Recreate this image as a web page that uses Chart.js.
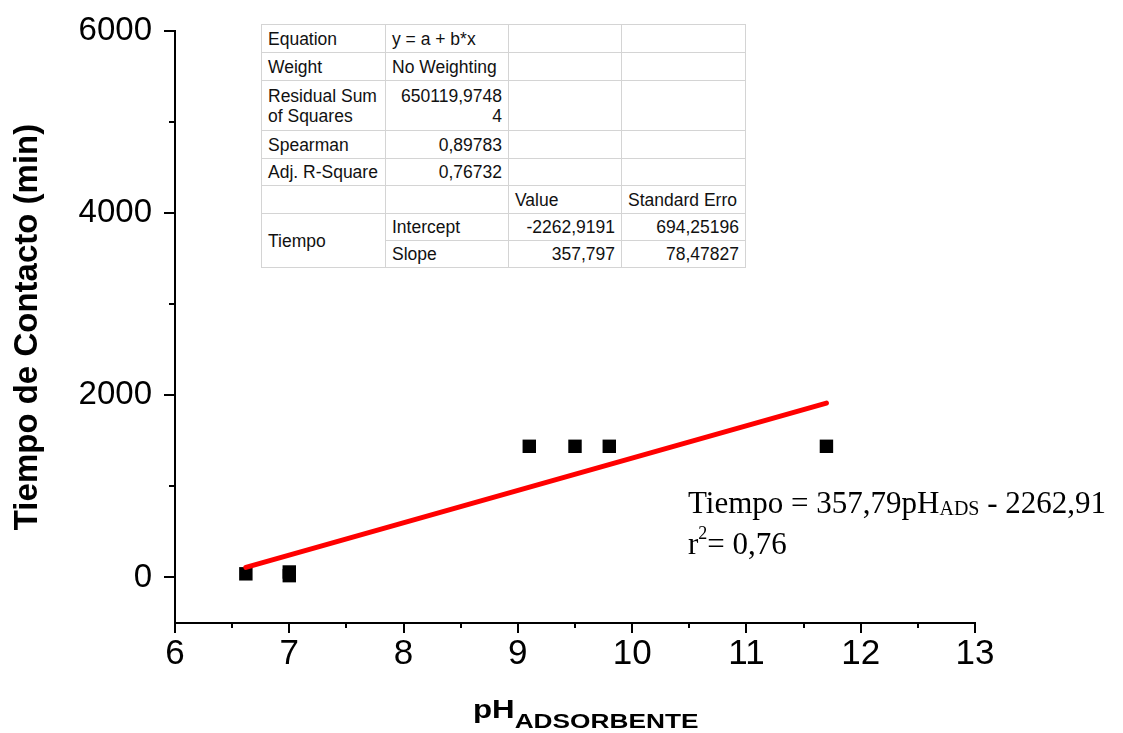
<!DOCTYPE html>
<html>
<head>
<meta charset="utf-8">
<script src="https://cdn.jsdelivr.net/npm/chart.js@4.4.1/dist/chart.umd.min.js"></script>
<style>
  html, body { margin: 0; padding: 0; background: #fff; }
  #wrap { position: relative; width: 1123px; height: 733px; overflow: hidden; }
  #c { position: absolute; left: 0; top: 0; }
  #stats {
    position: absolute; left: 261px; top: 24px;
    border-collapse: collapse; table-layout: fixed;
    font-family: "Liberation Sans", Arial, sans-serif; font-size: 17.5px; color: #111;
    border: 1.5px solid #a0a0a0; background: #fff;
  }
  #stats td {
    border: 1px solid #d4d4d4; padding: 0 6px; line-height: 20px;
    white-space: nowrap; overflow: hidden; vertical-align: middle;
  }
  #stats td.r { text-align: right; }
</style>
</head>
<body>
<div id="wrap">
  <canvas id="c" width="1123" height="733"></canvas>
  <table id="stats">
    <colgroup><col style="width:124px"><col style="width:123px"><col style="width:113px"><col style="width:124px"></colgroup>
    <tr style="height:28px"><td>Equation</td><td>y = a + b*x</td><td></td><td></td></tr>
    <tr style="height:28px"><td>Weight</td><td>No Weighting</td><td></td><td></td></tr>
    <tr style="height:50px"><td>Residual Sum<br>of Squares</td><td class="r">650119,9748<br>4</td><td></td><td></td></tr>
    <tr style="height:28px"><td>Spearman</td><td class="r">0,89783</td><td></td><td></td></tr>
    <tr style="height:27px"><td>Adj. R-Square</td><td class="r">0,76732</td><td></td><td></td></tr>
    <tr style="height:28px"><td></td><td></td><td>Value</td><td>Standard Erro</td></tr>
    <tr style="height:27px"><td rowspan="2">Tiempo</td><td>Intercept</td><td class="r">-2262,9191</td><td class="r">694,25196</td></tr>
    <tr style="height:27px"><td>Slope</td><td class="r">357,797</td><td class="r">78,47827</td></tr>
  </table>
</div>
<script>
// ---- data ----
const phValues = [6.62, 7.0, 7.0, 9.1, 9.5, 9.8, 11.7];
const tiempoValues = [40, 60, 20, 1440, 1440, 1440, 1440];
const fitX = [6.62, 11.7];
const fitY = [110, 1915];
const xTicks = [6, 7, 8, 9, 10, 11, 12, 13];
const xMinorTicks = [6.5, 7.5, 8.5, 9.5, 10.5, 11.5, 12.5];
const yTicks = [0, 2000, 4000, 6000];
const yMinorTicks = [1000, 3000, 5000];
const xTitleMain = 'pH';
const xTitleSub = 'ADSORBENTE';
const yTitle = 'Tiempo de Contacto (min)';

const tickPlugin = {
  id: 'customAxes',
  afterDraw(chart) {
    const ctx = chart.ctx;
    const xs = chart.scales.x, ys = chart.scales.y;
    const area = chart.chartArea;
    ctx.save();
    ctx.strokeStyle = '#000';
    ctx.lineWidth = 2;
    ctx.beginPath();
    xTicks.forEach(v => { const p = Math.round(xs.getPixelForValue(v)); ctx.moveTo(p, area.bottom); ctx.lineTo(p, area.bottom + 10); });
    xMinorTicks.forEach(v => { const p = Math.round(xs.getPixelForValue(v)); ctx.moveTo(p, area.bottom); ctx.lineTo(p, area.bottom + 5); });
    yTicks.forEach(v => { const p = Math.round(ys.getPixelForValue(v)); ctx.moveTo(area.left, p); ctx.lineTo(area.left - 11, p); });
    yMinorTicks.forEach(v => { const p = Math.round(ys.getPixelForValue(v)); ctx.moveTo(area.left, p); ctx.lineTo(area.left - 6, p); });
    ctx.stroke();

    // y axis title
    ctx.fillStyle = '#000';
    ctx.save();
    ctx.translate(28, (area.top + area.bottom) / 2);
    ctx.rotate(-Math.PI / 2);
    ctx.font = 'bold 33px "Liberation Sans", Arial, sans-serif';
    ctx.textAlign = 'center';
    ctx.textBaseline = 'middle';
    ctx.fillText(yTitle, 0, 0);
    ctx.restore();

    // x axis title with subscript
    ctx.save();
    ctx.translate(473, 0);
    ctx.scale(1.25, 1);
    ctx.textAlign = 'left';
    ctx.textBaseline = 'alphabetic';
    ctx.font = 'bold 25px "Liberation Sans", Arial, sans-serif';
    ctx.fillText(xTitleMain, 0, 718);
    const w1 = ctx.measureText(xTitleMain).width;
    ctx.font = 'bold 21px "Liberation Sans", Arial, sans-serif';
    ctx.fillText(xTitleSub, w1, 728);
    ctx.restore();

    // regression annotation
    ctx.textAlign = 'left';
    ctx.textBaseline = 'alphabetic';
    let x = 688;
    const big = '31px "Liberation Serif", "Times New Roman", serif';
    const sub = '20px "Liberation Serif", "Times New Roman", serif';
    ctx.font = big; ctx.fillText('Tiempo = 357,79pH', x, 513); x += ctx.measureText('Tiempo = 357,79pH').width;
    ctx.font = sub; ctx.fillText('ADS', x, 515); x += ctx.measureText('ADS').width;
    ctx.font = big; ctx.fillText(' - 2262,91', x, 513);
    x = 688;
    ctx.font = big; ctx.fillText('r', x, 554); x += ctx.measureText('r').width;
    ctx.font = '18px "Liberation Serif", "Times New Roman", serif'; ctx.fillText('2', x, 539); x += ctx.measureText('2').width;
    ctx.font = big; ctx.fillText('= 0,76', x, 554);
    ctx.restore();
  }
};

new Chart(document.getElementById('c'), {
  data: {
    datasets: [
      {
        type: 'line',
        data: fitX.map((v, i) => ({ x: v, y: fitY[i] })),
        borderColor: '#ff0000',
        borderWidth: 5,
        borderCapStyle: 'round',
        pointRadius: 0,
        fill: false,
        order: 0
      },
      {
        type: 'scatter',
        data: phValues.map((v, i) => ({ x: v, y: tiempoValues[i] })),
        pointStyle: 'rect',
        pointRadius: 9.5,
        pointBorderWidth: 0,
        backgroundColor: '#000',
        borderColor: '#000',
        order: 1
      }
    ]
  },
  options: {
    responsive: false,
    animation: false,
    devicePixelRatio: 1,
    layout: { padding: { top: 31, right: 148, left: 0, bottom: 0 } },
    plugins: { legend: { display: false }, tooltip: { enabled: false } },
    scales: {
      x: {
        type: 'linear', position: 'bottom', min: 6, max: 13,
        afterBuildTicks: s => { s.ticks = xTicks.map(v => ({ value: v })); },
        afterFit: s => { s.height = 110; s.paddingLeft = 0; s.paddingRight = 0; },
        grid: { display: true, drawOnChartArea: false, drawTicks: false },
        border: { display: true, color: '#000', width: 2 },
        ticks: { color: '#000', padding: 10, callback: v => String(v), font: { family: '"Liberation Sans", Arial, sans-serif', size: 35 }, maxRotation: 0, autoSkip: false }
      },
      y: {
        type: 'linear', position: 'left', min: -500, max: 6000,
        afterBuildTicks: s => { s.ticks = yTicks.map(v => ({ value: v })); },
        afterFit: s => { s.width = 175; s.paddingTop = 0; s.paddingBottom = 0; },
        grid: { display: true, drawOnChartArea: false, drawTicks: false },
        border: { display: true, color: '#000', width: 2 },
        ticks: { color: '#000', padding: 23, callback: v => String(v), font: { family: '"Liberation Sans", Arial, sans-serif', size: 33 }, autoSkip: false }
      }
    }
  },
  plugins: [tickPlugin]
});
</script>
</body>
</html>
